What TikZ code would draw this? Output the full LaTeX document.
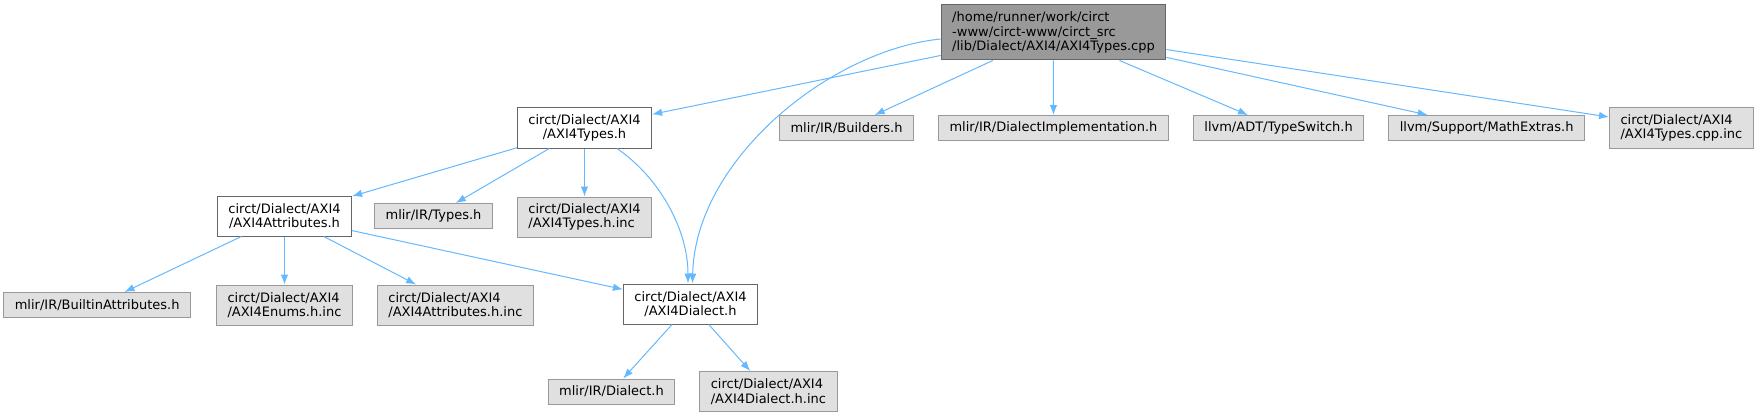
\documentclass[tikz,border=0pt]{standalone}
\usepackage{fontspec}
\setmainfont{DejaVu Sans}
\usetikzlibrary{positioning,arrows.meta}

\definecolor{edgeblue}{HTML}{63B8FF}
\definecolor{rootfill}{HTML}{999999}
\definecolor{darkline}{HTML}{666666}
\definecolor{sysfill}{HTML}{E0E0E0}

\tikzset{
  box/.style={rectangle, line width=1pt, inner xsep=11pt, inner ysep=0pt,
    minimum height=25pt, font=\fontsize{13}{14.5}\selectfont},
  dbl/.style={minimum height=40pt},
  mainfile/.style={box, draw=darkline, fill=rootfill, align=left, minimum height=55pt},
  hdr/.style={box, draw=darkline, fill=white, align=center},
  sys/.style={box, draw=rootfill, fill=sysfill, align=left},
  dep/.style={->, draw=edgeblue, line width=1pt}
}

\begin{document}
\begin{tikzpicture}
    [x=1pt,y=-1pt
    ,>={Latex[length=10pt,width=7.5pt]}
    ]

    \useasboundingbox (0,0) rectangle (1755,417);

    % the file itself
    \node[mainfile] (cpp) at (1053.5,32.5) {/home/runner/work/circt\\-www/circt-www/circt\_src\\/lib/Dialect/AXI4/AXI4Types.cpp};

    % first level
    \node[hdr, dbl] (typesh) at (584.5,128) {circt/Dialect/AXI4\\/AXI4Types.h};
    \node[sys] (builders) at (846.5,128) {mlir/IR/Builders.h};
    \node[sys, right=24pt of builders] (dialimpl) {mlir/IR/DialectImplementation.h};
    \node[sys, right=24pt of dialimpl] (typeswitch) {llvm/ADT/TypeSwitch.h};
    \node[sys, right=24pt of typeswitch] (mathextras) {llvm/Support/MathExtras.h};
    \node[sys, dbl, right=24pt of mathextras] (cppinc) {circt/Dialect/AXI4\\/AXI4Types.cpp.inc};

    % second level
    \node[hdr, dbl] (attrh) at (284.5,216) {circt/Dialect/AXI4\\/AXI4Attributes.h};
    \node[sys, right=22pt of attrh] (irtypes) {mlir/IR/Types.h};
    \node[sys, dbl, below=48pt of typesh] (typesinc) {circt/Dialect/AXI4\\/AXI4Types.h.inc};

    % third level
    \node[sys, dbl, below=48pt of attrh] (enumsinc) {circt/Dialect/AXI4\\/AXI4Enums.h.inc};
    \node[sys, left=25pt of enumsinc] (builtin) {mlir/IR/BuiltinAttributes.h};
    \node[sys, dbl, right=24pt of enumsinc] (attrinc) {circt/Dialect/AXI4\\/AXI4Attributes.h.inc};
    \node[hdr, dbl] (dialecth) at (690.5,304) {circt/Dialect/AXI4\\/AXI4Dialect.h};

    % fourth level
    \node[sys] (irdialect) at (611.5,391.5) {mlir/IR/Dialect.h};
    \node[sys, dbl, right=24pt of irdialect] (dialectinc) {circt/Dialect/AXI4\\/AXI4Dialect.h.inc};

    \draw [dep] (cpp) -- (typesh);
    \draw [dep] ([yshift=-6.5pt]cpp.west) .. controls (830,50) and (695,160) .. ([xshift=2pt]dialecth.north);
    \draw [dep] (cpp) -- (builders);
    \draw [dep] (cpp) -- (dialimpl);
    \draw [dep] (cpp) -- (typeswitch);
    \draw [dep] (cpp) -- (mathextras);
    \draw [dep] (cpp) -- (cppinc);

    \draw [dep] (typesh) -- (attrh);
    \draw [dep] (typesh) -- (irtypes);
    \draw [dep] (typesh) -- (typesinc);
    \draw [dep] ([xshift=32.5pt]typesh.south) .. controls (660,178) and (688,230) .. ([xshift=-2.5pt]dialecth.north);

    \draw [dep] (attrh) -- (builtin);
    \draw [dep] (attrh) -- (enumsinc);
    \draw [dep] (attrh) -- (attrinc);
    \draw [dep] (attrh) -- (dialecth);

    \draw [dep] (dialecth) -- (irdialect);
    \draw [dep] (dialecth) -- (dialectinc);

  \end{tikzpicture}
\end{document}
